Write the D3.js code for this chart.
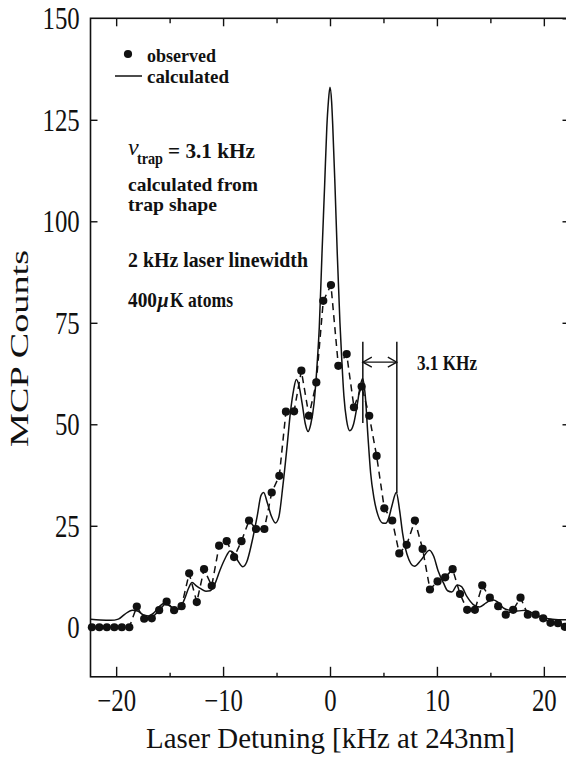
<!DOCTYPE html>
<html lang="en">
<head>
<meta charset="utf-8">
<script src="https://d3js.org/d3.v7.min.js"></script>
<title>MCP Counts vs Laser Detuning</title>
<style>
  body { margin: 0; background: #fff; }
  svg text { font-family: "Liberation Serif", "DejaVu Serif", serif; fill: #111; }
</style>
</head>
<body>
<script>

// observed MCP counts (dots, joined by a dashed line)
var obsX = [-22.27, -21.57, -20.87, -20.17, -19.47, -18.77, -18.07, -17.38, -16.67, -15.98,
            -15.28, -14.58, -13.88, -13.17, -12.46, -11.78, -11.06, -10.37, -9.66, -8.97,
            -8.28, -7.57, -6.92, -6.14, -5.45, -4.74, -4.12, -3.36, -2.68, -1.97,
            -1.28, -0.63, 0.09, 0.78, 1.56, 2.24, 2.96, 3.67, 4.36, 5.08,
            5.82, 6.48, 7.17, 7.94, 8.66, 9.35, 10.06, 10.77, 11.47, 12.16,
            12.83, 13.55, 14.24, 14.95, 15.73, 16.44, 17.13, 17.82, 18.5, 19.23,
            19.94, 20.62, 21.32, 21.96];
var obsY = [0, 0, 0, 0, 0, 0, 5.1, 2.1, 2.2, 4.2,
            6.3, 4.2, 5.2, 13.3, 6.2, 14.3, 10.2, 20.1, 21.2, 17.3,
            21.2, 26.3, 24.2, 24.2, 33.2, 37.3, 53.1, 53.2, 63.2, 52.1,
            60.3, 80.4, 84.3, 64.4, 67.3, 54.2, 59.3, 52.1, 42.2, 29.3,
            26.3, 18.2, 20.3, 26.3, 19.3, 9.3, 11.3, 12.3, 14.3, 8.2,
            4.3, 4.3, 10.3, 7.3, 5.2, 3.1, 4.3, 7.3, 3.1, 3.1,
            2.2, 1.1, 1.0, 0.1];

// calculated line shape
var calcX = [-22.4, -21.5, -20.5, -19.8, -19.2, -18.5, -18.0, -17.5, -17.0, -16.5,
             -16.0, -15.5, -15.0, -14.5, -14.1, -13.6, -13.2, -12.9, -12.5, -12.1,
             -11.6, -11.2, -10.8, -10.3, -9.8, -9.35, -9.0, -8.6, -8.15, -7.8,
             -7.3, -6.8, -6.45, -6.2, -5.9, -5.5, -5.1, -4.8, -4.4, -4.0,
             -3.7, -3.4, -3.15, -2.9, -2.6, -2.3, -2.05, -1.8, -1.5, -1.2,
             -1.0, -0.75, -0.5, -0.3, -0.15, 0, 0.15, 0.25, 0.47, 0.68,
             0.93, 1.1, 1.3, 1.55, 1.85, 2.2, 2.5, 2.8, 3.05, 3.3,
             3.55, 3.8, 4.1, 4.5, 4.9, 5.2, 5.5, 5.8, 6.2, 6.5,
             6.8, 7.2, 7.9, 8.5, 9.3, 9.7, 10.1, 10.6, 11.0, 11.4,
             11.9, 12.3, 12.8, 13.4, 14.0, 14.6, 15.2, 15.7, 16.2, 16.8,
             17.5, 18.3, 19.0, 19.8, 20.8, 22.4];
var calcY = [2.0, 1.8, 1.7, 2.0, 3.2, 4.2, 4.0, 3.1, 2.8, 3.5,
             5.0, 5.9, 5.3, 4.4, 4.5, 7.0, 9.8, 11.0, 10.2, 9.5,
             8.9, 9.0, 10.5, 14.0, 17.0, 18.8, 18.3, 16.3, 14.9, 16.0,
             21.0, 27.5, 32.5, 33.2, 31.0, 27.5, 25.7, 27.0, 35.0, 45.0,
             53.0, 58.5, 61.0, 59.5, 55.0, 50.0, 48.2, 50.0, 55.0, 65.0,
             74.0, 92.0, 109.0, 123.0, 129.5, 133.0, 129.5, 124.0, 108.5, 92.0,
             75.0, 66.0, 57.0, 51.0, 48.4, 50.0, 54.0, 59.0, 61.3, 57.0,
             47.0, 38.0, 32.0, 27.5, 25.7, 25.6, 27.0, 30.0, 33.2, 29.0,
             23.0, 18.0, 15.0, 16.5, 19.0, 17.5, 14.0, 11.0, 9.0, 8.7,
             10.4, 10.0, 7.6, 5.6, 5.0, 6.0, 6.8, 6.2, 4.8, 4.2,
             4.0, 4.2, 3.4, 2.5, 2.0, 1.8];

var xMajor = [-20, -10, 0, 10, 20];
var xMinor = [-15, -5, 5, 15];
var yTicks = [0, 25, 50, 75, 100, 125, 150];

var width = 566, height = 759;
// plot frame edges (right edge falls just past the picture)
var frameL = 90.5, frameR = 569.5, frameT = 18.3, frameB = 676.8;

var svg = d3.select("body").append("svg")
  .attr("width", width)
  .attr("height", height);

var x = d3.scaleLinear().domain([-22.4, 22.4]).range([frameL, frameR]);
var y = d3.scaleLinear().domain([-12.2, 150]).range([frameB, frameT]);

// axes, ticks pointing inward
function tidy(g) {
  g.select(".domain").remove();
  g.selectAll(".tick line").attr("stroke", "#111").attr("stroke-width", 1.4);
}

svg.append("g").attr("transform", "translate(0," + frameB + ")")
  .call(d3.axisBottom(x).tickValues(xMajor).tickSize(-10)
        .tickFormat(function(d) { return d < 0 ? "\u2212" + (-d) : d; }))
  .call(tidy)
  .call(function(g) {
    g.selectAll("text")
      .attr("y", 34).attr("dy", 0)
      .attr("transform", "scale(0.8,1)")
      .style("font-size", "31px")
      .style("font-family", "'Liberation Serif', serif");
  });
svg.append("g").attr("transform", "translate(0," + frameB + ")")
  .call(d3.axisBottom(x).tickValues(xMinor).tickSize(-4).tickFormat(""))
  .call(tidy);
svg.append("g").attr("transform", "translate(0," + frameT + ")")
  .call(d3.axisTop(x).tickValues(xMajor).tickSize(-8).tickFormat(""))
  .call(tidy);
svg.append("g").attr("transform", "translate(0," + frameT + ")")
  .call(d3.axisTop(x).tickValues(xMinor).tickSize(-5).tickFormat(""))
  .call(tidy);

svg.append("g").attr("transform", "translate(" + frameL + ",0)")
  .call(d3.axisLeft(y).tickValues(yTicks).tickSize(-7))
  .call(tidy)
  .call(function(g) {
    g.selectAll(".tick").filter(function(d) { return d === 150; }).select("line").remove();
    g.selectAll("text")
      .attr("x", -13.5).attr("dy", "0.34em")
      .attr("transform", "scale(0.8,1)")
      .style("font-size", "31px")
      .style("font-family", "'Liberation Serif', serif");
  });
svg.append("g").attr("transform", "translate(" + frameR + ",0)")
  .call(d3.axisRight(y).tickValues(yTicks).tickSize(-7).tickFormat(""))
  .call(tidy);

// frame
svg.append("rect")
  .attr("x", frameL).attr("y", frameT)
  .attr("width", frameR - frameL).attr("height", frameB - frameT)
  .attr("fill", "none").attr("stroke", "#111").attr("stroke-width", 1.6);

// axis titles
svg.append("text")
  .attr("x", 146).attr("y", 748)
  .attr("textLength", 369).attr("lengthAdjust", "spacingAndGlyphs")
  .style("font-size", "29px")
  .text("Laser Detuning [kHz at 243nm]");

svg.append("text")
  .attr("transform", "translate(28,447) rotate(-90)")
  .attr("textLength", 197).attr("lengthAdjust", "spacingAndGlyphs")
  .style("font-size", "26px")
  .text("MCP Counts");

// data
var obs = obsX.map(function(d, i) { return { x: d, y: obsY[i] }; });
var calc = calcX.map(function(d, i) { return { x: d, y: calcY[i] }; });

svg.append("path")
  .datum(obs)
  .attr("fill", "none").attr("stroke", "#111").attr("stroke-width", 1.5)
  .attr("stroke-dasharray", "7,5")
  .attr("d", d3.line().x(function(d) { return x(d.x); }).y(function(d) { return y(d.y); }));

svg.append("path")
  .datum(calc)
  .attr("fill", "none").attr("stroke", "#111").attr("stroke-width", 1.5)
  .attr("d", d3.line().curve(d3.curveMonotoneX)
    .x(function(d) { return x(d.x); }).y(function(d) { return y(d.y); }));

svg.append("g").selectAll("circle")
  .data(obs)
  .enter().append("circle")
  .attr("cx", function(d) { return x(d.x); })
  .attr("cy", function(d) { return y(d.y); })
  .attr("r", 4.1)
  .attr("fill", "#111");

// trap frequency marker
var arrowY = y(65.3);
svg.append("line").attr("x1", x(3.07)).attr("x2", x(3.07)).attr("y1", y(70.3)).attr("y2", y(50.3))
  .attr("stroke", "#111").attr("stroke-width", 1.5);
svg.append("line").attr("x1", x(6.25)).attr("x2", x(6.25)).attr("y1", y(70.3)).attr("y2", y(33.1))
  .attr("stroke", "#111").attr("stroke-width", 1.5);
svg.append("line").attr("x1", x(3.07)).attr("x2", x(6.25)).attr("y1", arrowY).attr("y2", arrowY)
  .attr("stroke", "#111").attr("stroke-width", 1.3);
svg.append("path")
  .attr("d", "M" + (x(3.07) + 9) + "," + (arrowY - 5) + "L" + x(3.07) + "," + arrowY + "L" + (x(3.07) + 9) + "," + (arrowY + 5) +
             "M" + (x(6.25) - 9) + "," + (arrowY - 5) + "L" + x(6.25) + "," + arrowY + "L" + (x(6.25) - 9) + "," + (arrowY + 5))
  .attr("fill", "none").attr("stroke", "#111").attr("stroke-width", 1.3);

// annotation text
function note(tx, ty, s, size, w) {
  var t = svg.append("text")
    .attr("x", tx).attr("y", ty)
    .style("font-size", size + "px").style("font-weight", "bold")
    .text(s);
  if (w) t.attr("textLength", w).attr("lengthAdjust", "spacingAndGlyphs");
  return t;
}

note(417, 370, "3.1  KHz", 22, 60);

// legend
svg.append("circle").attr("cx", 128).attr("cy", 54).attr("r", 4.1).attr("fill", "#111");
note(147, 62, "observed", 19, 69);
svg.append("line").attr("x1", 115).attr("x2", 142).attr("y1", 76).attr("y2", 76)
  .attr("stroke", "#111").attr("stroke-width", 1.5);
note(147, 83, "calculated", 19, 82);

svg.append("text").attr("x", 128).attr("y", 155)
  .style("font-size", "24px").style("font-style", "italic")
  .text("\u03bd");
note(137, 164, "trap", 16, 26);
note(168, 158, "=  3.1  kHz", 22, 87);
note(128, 191, "calculated from", 19, 130);
note(128, 211, "trap shape", 19, 89);
note(128, 267, "2 kHz laser linewidth", 22, 180);
note(128, 307, "400", 22, 29);
note(157.5, 307, "\u03bc", 20).style("font-style", "italic");
note(170, 307, "K atoms", 22, 63);

</script>
</body>
</html>
